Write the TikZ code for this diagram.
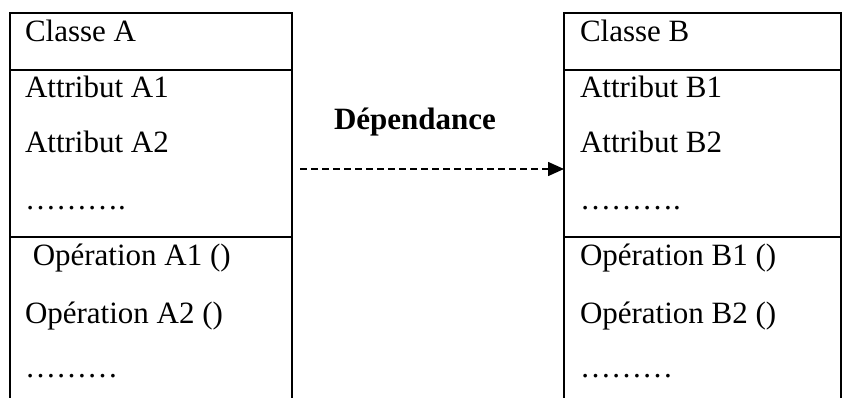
\documentclass[tikz,border=0pt]{standalone}
\usepackage{fontspec}
\setmainfont{Liberation Serif}
\usetikzlibrary{arrows.meta}
\tikzset{
  txt/.style={anchor=base west, inner sep=0pt, outer sep=0pt, font=\fontsize{31}{37}\selectfont},
  lbl/.style={anchor=base, inner sep=0pt, font=\fontsize{31}{37}\selectfont\bfseries},
  classbox/.style={rectangle, inner sep=0pt, outer sep=0pt, anchor=north west},
  boxline/.style={line width=2.2pt},
  dep/.style={line width=1.5pt, dash pattern=on 7pt off 4pt, -{Triangle[length=16pt,width=14pt]}}
}
\begin{document}
\begin{tikzpicture}[x=1pt,y=-1pt]
\useasboundingbox (0,0) rectangle (842,398);
% class boxes (extend beyond the bottom edge)
\node[classbox, minimum width=282pt, minimum height=390pt] (A) at (10,13) {};
\node[classbox, minimum width=277pt, minimum height=390pt] (B) at (564,13) {};
\draw[boxline] (A.south west) -- (A.north west) -- (A.north east) -- (A.south east);
\draw[boxline] (B.south west) -- (B.north west) -- (B.north east) -- (B.south east);
\coordinate (d1) at (0,70);
\coordinate (d2) at (0,237);
\draw[boxline] (A.west |- d1) -- (A.east |- d1);
\draw[boxline] (A.west |- d2) -- (A.east |- d2);
\draw[boxline] (B.west |- d1) -- (B.east |- d1);
\draw[boxline] (B.west |- d2) -- (B.east |- d2);
% texts A
\node[txt] (a0) at (25,42) {Classe A};
\node[txt] (a1) at (25,98) {Attribut A1};
\node[txt] (a2) at (25,153) {Attribut A2};
\node[txt] (a3) at (25,209) {……….};
\node[txt] (a4) at (25,265) {\ Opération A1 ()};
\node[txt] (a5) at (25,323) {Opération A2 ()};
\node[txt] (a6) at (25,377) {………};
% texts B
\node[txt] (b0) at (580,42) {Classe B};
\node[txt] (b1) at (580,98) {Attribut B1};
\node[txt] (b2) at (580,153) {Attribut B2};
\node[txt] (b3) at (580,209) {……….};
\node[txt] (b4) at (580,265) {Opération B1 ()};
\node[txt] (b5) at (580,323) {Opération B2 ()};
\node[txt] (b6) at (580,377) {………};
% dependency
\coordinate (arr) at (0,169);
\draw[dep] ([xshift=8pt]A.east |- arr) -- (B.west |- arr);
\node[lbl] (dl) at (415,130) {Dépendance};
\end{tikzpicture}
\end{document}
